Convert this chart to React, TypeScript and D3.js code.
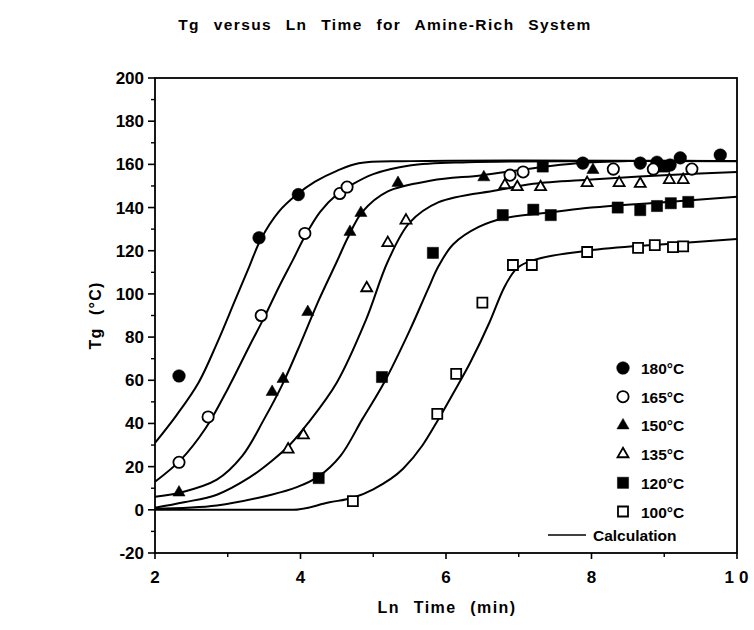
import React from 'react';
import * as d3 from 'd3';

// Tg vs ln(time) for the amine-rich system: measured points per cure
// temperature plus the calculated curves.

const W = 754;
const H = 630;
const LEFT = 155;
const RIGHT = 737;
const TOP = 78;
const BOTTOM = 553;

const FONT = '"Liberation Sans", Arial, Helvetica, sans-serif';

const xTicks = [2, 4, 6, 8, 10];
const xMinor = [3, 5, 7, 9];
const yTicks = [-20, 0, 20, 40, 60, 80, 100, 120, 140, 160, 180, 200];
const yMinor = [-10, 10, 30, 50, 70, 90, 110, 130, 150, 170, 190];

// measured points [ln t, Tg]
const pts180 = [[2.33, 62], [3.43, 126], [3.97, 146], [7.88, 160.6], [8.67, 160.6], [8.9, 161], [9.08, 159.7], [9.22, 163], [9.77, 164.3]];
const pts165 = [[2.33, 22], [2.73, 43], [3.46, 90], [4.06, 128], [4.54, 146.5], [4.64, 149.5], [6.88, 155], [7.06, 156.5], [8.3, 157.8], [8.85, 157.8], [9.38, 157.8]];
const pts150 = [[2.33, 8], [3.61, 54.6], [3.76, 60.6], [4.1, 91.6], [4.68, 128.7], [4.83, 137.5], [5.34, 151.4], [6.52, 154], [8.02, 157.4]];
const pts135 = [[3.83, 28], [4.04, 34.6], [4.91, 102.7], [5.2, 123.6], [5.45, 134], [6.81, 150.4], [6.98, 149.5], [7.3, 149.5], [7.94, 151.4], [8.38, 151.4], [8.67, 151], [9.07, 152.8], [9.26, 152.8]];
const pts120 = [[4.25, 14.7], [5.12, 61.5], [5.82, 119], [6.78, 136.5], [7.2, 139], [7.33, 159], [7.44, 136.5], [8.36, 140], [8.67, 138.8], [8.9, 140.7], [9.0, 159], [9.09, 142], [9.33, 142.6]];
const pts100 = [[4.72, 4], [5.88, 44.4], [6.14, 63], [6.5, 96], [6.92, 113.4], [7.18, 113.4], [7.94, 119.4], [8.64, 121.3], [8.87, 122.6], [9.12, 121.7], [9.26, 122]];

// calculated curves
const calc180 = [[2, 31], [2.3, 44], [2.6, 59], [2.85, 77], [3.1, 97], [3.3, 113], [3.45, 125], [3.7, 138], [3.95, 146], [4.2, 152], [4.5, 157], [4.8, 160.5], [5.5, 161.5], [10, 161.5]];
const calc165 = [[2, 13], [2.35, 23], [2.7, 38], [3, 56], [3.3, 76], [3.5, 89], [3.7, 103], [3.9, 116], [4.05, 126], [4.27, 138], [4.5, 146], [4.7, 150.5], [5, 155.5], [5.5, 159.5], [6.3, 161], [10, 161.5]];
const calc150 = [[2, 6], [2.35, 8], [2.85, 14], [3.2, 25], [3.5, 42], [3.75, 58], [4, 77], [4.25, 97], [4.5, 115], [4.65, 126], [4.85, 138], [5.2, 147.5], [5.8, 152.5], [6.5, 155], [7.15, 158], [7.8, 160.5], [8.5, 161.5], [10, 161.5]];
const calc135 = [[2, 1], [2.4, 3.5], [2.85, 7], [3.3, 15], [3.6, 22.5], [3.85, 30], [4.1, 40], [4.5, 59], [4.9, 88], [5.2, 115], [5.5, 133], [5.9, 142.5], [6.7, 148], [7.2, 151], [8, 153], [9, 155], [10, 156.5]];
const calc120 = [[2, 0.5], [2.85, 2], [3.6, 7], [3.95, 10.5], [4.25, 15.5], [4.55, 25], [4.85, 42], [5.15, 59], [5.5, 83], [5.75, 102], [5.9, 113], [6.1, 123], [6.45, 131], [6.8, 135], [7.5, 138], [8, 140], [9, 142.5], [10, 145]];
const calc100 = [[2, 0], [3.9, 0], [4.4, 3.5], [4.72, 5.6], [5.0, 9.5], [5.41, 19], [5.68, 30], [5.88, 41], [6.1, 54], [6.33, 68], [6.6, 87], [6.8, 103], [6.95, 111], [7.15, 115], [7.94, 120], [9, 123], [10, 125.4]];

const seriesNames = ['180°C', '165°C', '150°C', '135°C', '120°C', '100°C'];
const seriesPoints = [pts180, pts165, pts150, pts135, pts120, pts100];
const seriesShapes = ['circle', 'circle', 'triangle', 'triangle', 'square', 'square'];
const seriesFilled = [true, false, true, false, true, false];
const curves = [calc180, calc165, calc150, calc135, calc120, calc100];

const x = d3.scaleLinear().domain([2, 10]).range([LEFT, RIGHT]);
const y = d3.scaleLinear().domain([-20, 200]).range([BOTTOM, TOP]);

const smoothLine = d3
  .line<number[]>()
  .x((d) => x(d[0]))
  .y((d) => y(d[1]))
  .curve(d3.curveCatmullRom.alpha(0.5));

// the 100°C curve sits flat on zero before it rises, monotone keeps it from dipping
const flatLine = d3
  .line<number[]>()
  .x((d) => x(d[0]))
  .y((d) => y(d[1]))
  .curve(d3.curveMonotoneX);

const symbolFor = (shape: string, filled: boolean) => {
  if (shape === 'circle') return d3.symbol(d3.symbolCircle, filled ? 125 : 100)();
  if (shape === 'triangle') return d3.symbol(d3.symbolTriangle, filled ? 64 : 52)();
  return d3.symbol(d3.symbolSquare, filled ? 125 : 100)();
};

const Marker = ({ shape, filled, cx, cy }: any) => (
  <path
    d={symbolFor(shape, filled) as string}
    transform={`translate(${cx},${cy})`}
    fill={filled ? '#000' : '#fff'}
    stroke="#000"
    strokeWidth={filled ? 0.5 : 1.8}
  />
);

export default function App() {
  const legendX = 623;
  const legendY0 = 368;
  const legendStep = 28.7;

  return (
    <svg
      width={W}
      height={H}
      style={{ position: 'absolute', left: 0, top: 0, background: '#fff' }}
      fontFamily={FONT}
      fontWeight="bold"
    >
      <rect width={W} height={H} fill="#fff" />

      <text x={385} y={30} textAnchor="middle" fontSize={15.5} letterSpacing={1.4} wordSpacing={8}>
        Tg versus Ln Time for Amine-Rich System
      </text>

      {/* frame */}
      <rect x={LEFT} y={TOP} width={RIGHT - LEFT} height={BOTTOM - TOP} fill="none" stroke="#000" strokeWidth={1.8} />

      {/* y ticks */}
      {yTicks.map((t) => (
        <g key={`yt${t}`}>
          <line x1={LEFT - 7} x2={LEFT} y1={y(t)} y2={y(t)} stroke="#000" strokeWidth={1.6} />
          <text x={LEFT - 11} y={y(t) + 6} textAnchor="end" fontSize={17}>
            {t}
          </text>
        </g>
      ))}
      {yMinor.map((t) => (
        <line key={`ym${t}`} x1={LEFT - 4} x2={LEFT} y1={y(t)} y2={y(t)} stroke="#000" strokeWidth={1.4} />
      ))}

      {/* x ticks */}
      {xTicks.map((t) => (
        <g key={`xt${t}`}>
          <line x1={x(t)} x2={x(t)} y1={BOTTOM} y2={BOTTOM + 6} stroke="#000" strokeWidth={1.6} />
          <text x={x(t) + (t === 10 ? 2 : 0)} y={BOTTOM + 30} textAnchor="middle" fontSize={17} letterSpacing={t === 10 ? 5 : 0}>
            {t}
          </text>
        </g>
      ))}
      {xMinor.map((t) => (
        <line key={`xm${t}`} x1={x(t)} x2={x(t)} y1={BOTTOM} y2={BOTTOM + 4} stroke="#000" strokeWidth={1.4} />
      ))}

      <text x={447} y={613} textAnchor="middle" fontSize={16} letterSpacing={1.4} wordSpacing={8}>
        Ln Time (min)
      </text>
      <text
        transform={`translate(101,${(TOP + BOTTOM) / 2}) rotate(-90)`}
        textAnchor="middle"
        fontSize={16}
        letterSpacing={1.2}
        wordSpacing={7}
      >
        Tg (°C)
      </text>

      {/* calculated curves */}
      {curves.map((c, i) => (
        <path
          key={`c${i}`}
          d={(i === 5 ? flatLine : smoothLine)(c as any) as string}
          fill="none"
          stroke="#000"
          strokeWidth={2}
        />
      ))}

      {/* measured points */}
      {seriesPoints.map((pts, i) =>
        pts.map((p, j) => (
          <Marker key={`p${i}-${j}`} shape={seriesShapes[i]} filled={seriesFilled[i]} cx={x(p[0])} cy={y(p[1])} />
        )),
      )}

      {/* legend */}
      {seriesNames.map((name, i) => (
        <g key={`lg${i}`}>
          <Marker shape={seriesShapes[i]} filled={seriesFilled[i]} cx={legendX} cy={legendY0 + i * legendStep} />
          <text x={641} y={legendY0 + i * legendStep + 6} fontSize={15.5}>
            {name}
          </text>
        </g>
      ))}
      <line x1={548} x2={586} y1={535} y2={535} stroke="#000" strokeWidth={1.5} />
      <text x={593} y={541} fontSize={15.5}>
        Calculation
      </text>
    </svg>
  );
}
